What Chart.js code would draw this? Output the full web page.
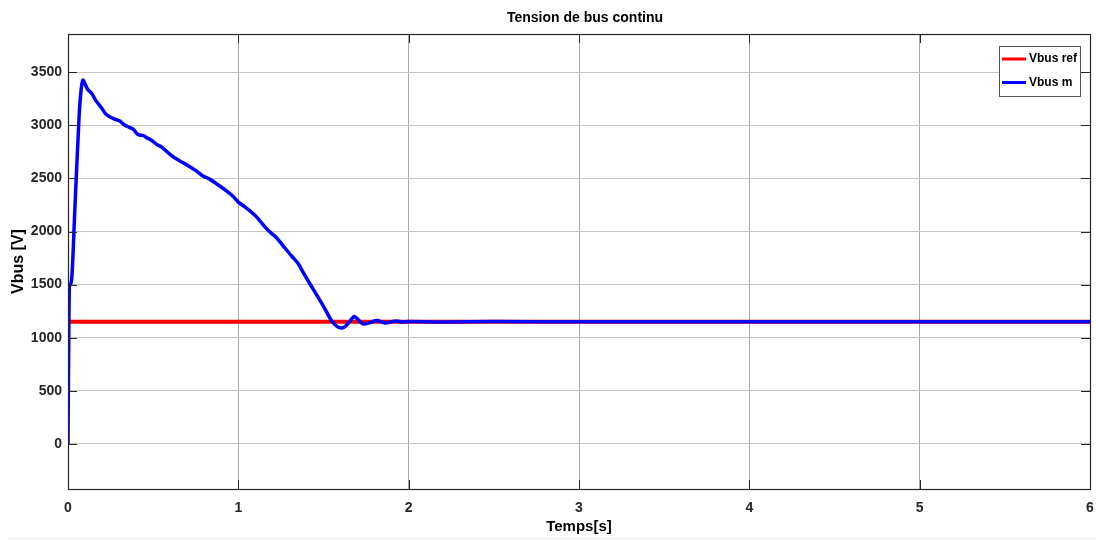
<!DOCTYPE html>
<html>
<head>
<meta charset="utf-8">
<title>Tension de bus continu</title>
<script src="https://cdn.jsdelivr.net/npm/chart.js@4/dist/chart.umd.min.js"></script>
<style>
  html, body { margin: 0; padding: 0; background: #ffffff; }
  #wrap { width: 1096px; height: 540px; position: relative; }
</style>
</head>
<body>
<div id="wrap"><canvas id="c" width="1096" height="540"></canvas></div>
<script>
// Measured DC bus voltage (time in s, voltage in V)
const timeM = [0, 0.004, 0.008, 0.012, 0.022, 0.04, 0.065, 0.075, 0.088, 0.1, 0.115, 0.137,
  0.165, 0.196, 0.22, 0.245, 0.27, 0.304, 0.33, 0.363, 0.385, 0.412, 0.44, 0.461, 0.49,
  0.52, 0.55, 0.588, 0.62, 0.657, 0.7, 0.755, 0.79, 0.834, 0.88, 0.932, 0.97, 1.0, 1.04,
  1.07, 1.108, 1.128, 1.167, 1.2, 1.216, 1.265, 1.314, 1.35, 1.382, 1.441, 1.5, 1.55,
  1.579, 1.605, 1.63, 1.66, 1.68, 1.7, 1.735, 1.77, 1.814, 1.84, 1.869, 1.9, 1.93, 1.96,
  2.0, 2.2, 2.5, 3.0, 3.5, 4.0, 4.5, 5.0, 5.5, 6.0];
const vbusM = [0, 900, 1480, 1500, 1560, 2200, 3080, 3300, 3427, 3390, 3340, 3305,
  3230, 3165, 3110, 3080, 3060, 3040, 3005, 2978, 2960, 2912, 2905, 2884, 2860,
  2821, 2795, 2742, 2700, 2665, 2625, 2569, 2525, 2491, 2440, 2380, 2330, 2277, 2230,
  2192, 2135, 2097, 2025, 1975, 1956, 1861, 1767, 1700, 1610, 1453, 1295, 1154,
  1107, 1092, 1110, 1165, 1200, 1175, 1129, 1140, 1163, 1150, 1138, 1150, 1157, 1148,
  1152, 1148, 1152, 1150, 1151, 1149, 1151, 1150, 1149, 1150];

// Reference DC bus voltage
const timeRef = [0, 6];
const vbusRef = [1150, 1150];

const seriesLabels = ['Vbus ref', 'Vbus m'];
const seriesColors = ['#ff0000', '#0000ff'];

const xTicks = [0, 1, 2, 3, 4, 5, 6];
const yTicks = [0, 500, 1000, 1500, 2000, 2500, 3000, 3500];

const FONT = "'Liberation Sans', Arial, Helvetica, sans-serif";
const TEXT = '#262626';

const toPoints = (xs, ys) => xs.map((x, i) => ({ x: x, y: ys[i] }));

// Frame, inward tick marks, figure title and in-plot legend
const decorations = {
  id: 'decorations',
  afterDraw(chart) {
    const ctx = chart.ctx;
    const a = chart.chartArea;
    const xs = chart.scales.x, ys = chart.scales.y;
    ctx.save();

    // inward tick marks on all four sides
    ctx.strokeStyle = '#262626';
    ctx.lineWidth = 1;
    const tl = 9;
    ctx.beginPath();
    xTicks.forEach(v => {
      const px = Math.round(xs.getPixelForValue(v)) + 0.5;
      ctx.moveTo(px, a.bottom); ctx.lineTo(px, a.bottom - tl);
      ctx.moveTo(px, a.top); ctx.lineTo(px, a.top + tl);
    });
    yTicks.forEach(v => {
      const py = Math.round(ys.getPixelForValue(v)) + 0.5;
      ctx.moveTo(a.left, py); ctx.lineTo(a.left + tl, py);
      ctx.moveTo(a.right, py); ctx.lineTo(a.right - tl, py);
    });
    ctx.stroke();

    // axes box
    ctx.strokeStyle = '#262626';
    ctx.lineWidth = 1.2;
    ctx.strokeRect(Math.round(a.left) + 0.5, Math.round(a.top) + 0.5,
      Math.round(a.right - a.left), Math.round(a.bottom - a.top));

    // title
    ctx.fillStyle = '#000000';
    ctx.font = 'bold 14px ' + FONT;
    ctx.textAlign = 'center';
    ctx.textBaseline = 'middle';
    ctx.fillText('Tension de bus continu', 585, 18);

    // legend box
    const lx = 999, ly = 46, lw = 81, lh = 50;
    ctx.fillStyle = '#ffffff';
    ctx.fillRect(lx, ly, lw, lh);
    ctx.strokeStyle = '#555555';
    ctx.lineWidth = 1;
    ctx.strokeRect(lx + 0.5, ly + 0.5, lw, lh);
    ctx.font = 'bold 12px ' + FONT;
    ctx.textAlign = 'left';
    seriesLabels.forEach((lab, i) => {
      const yy = ly + 13 + i * 23.5;
      ctx.strokeStyle = seriesColors[i];
      ctx.lineWidth = 3;
      ctx.beginPath();
      ctx.moveTo(lx + 3, yy); ctx.lineTo(lx + 27, yy);
      ctx.stroke();
      ctx.fillStyle = '#000000';
      ctx.fillText(lab, lx + 30, yy);
    });

    // faint figure edge at the bottom
    ctx.strokeStyle = '#ececec';
    ctx.lineWidth = 1;
    ctx.beginPath();
    ctx.moveTo(8, 538.5); ctx.lineTo(1096, 538.5);
    ctx.stroke();
    ctx.restore();
  }
};

new Chart(document.getElementById('c'), {
  type: 'line',
  data: {
    datasets: [
      {
        label: seriesLabels[0],
        data: toPoints(timeRef, vbusRef),
        borderColor: seriesColors[0],
        borderWidth: 4,
        pointRadius: 0,
        tension: 0,
        order: 1
      },
      {
        label: seriesLabels[1],
        data: toPoints(timeM, vbusM),
        borderColor: seriesColors[1],
        borderWidth: 3.5,
        pointRadius: 0,
        tension: 0.2,
        cubicInterpolationMode: 'monotone',
        order: 0
      }
    ]
  },
  options: {
    responsive: false,
    animation: false,
    events: [],
    layout: { padding: { left: 0, right: 6, top: 34, bottom: 0 } },
    plugins: {
      legend: { display: false },
      title: { display: false },
      tooltip: { enabled: false }
    },
    scales: {
      x: {
        type: 'linear',
        min: 0,
        max: 6,
        afterBuildTicks: s => { s.ticks = xTicks.map(v => ({ value: v })); },
        afterFit: s => { s.height = 51; s.paddingLeft = 0; s.paddingRight = 0; },
        border: { display: false },
        grid: { color: '#a8a8a8', lineWidth: 1, drawTicks: false },
        ticks: {
          color: TEXT,
          font: { family: FONT, size: 14, weight: 'bold' },
          padding: 11,
          maxRotation: 0,
          callback: v => String(v)
        },
        title: {
          display: true,
          text: 'Temps[s]',
          color: '#000000',
          font: { family: FONT, size: 15, weight: 'bold' },
          padding: { top: 0, bottom: 4 }
        }
      },
      y: {
        type: 'linear',
        min: -425,
        max: 3860,
        afterBuildTicks: s => { s.ticks = yTicks.map(v => ({ value: v })); },
        afterFit: s => { s.width = 68; s.paddingTop = 0; s.paddingBottom = 0; },
        border: { display: false },
        grid: { color: '#c4c4c4', lineWidth: 1, drawTicks: false },
        ticks: {
          color: TEXT,
          font: { family: FONT, size: 14, weight: 'bold' },
          padding: 6,
          callback: v => String(v)
        },
        title: {
          display: true,
          text: 'Vbus [V]',
          color: '#000000',
          font: { family: FONT, size: 16, weight: 'bold' },
          padding: { top: 9, bottom: 0 }
        }
      }
    }
  },
  plugins: [decorations]
});
</script>
</body>
</html>
